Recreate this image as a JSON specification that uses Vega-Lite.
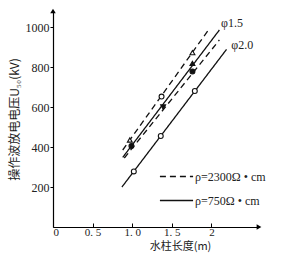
{
  "$schema": "https://vega.github.io/schema/vega-lite/v6.json",
  "width": 206,
  "height": 216,
  "autosize": "none",
  "padding": {"left": 53, "top": 11, "right": 33, "bottom": 31},
  "background": "white",
  "config": {
    "view": {"stroke": null},
    "font": "Liberation Serif"
  },
  "datasets": {
    "lines": [
      {"series": "A", "rho": "2300", "x": 0.88, "y": 385},
      {"series": "A", "rho": "2300", "x": 1.98, "y": 995},
      {"series": "B", "rho": "750", "x": 0.88, "y": 348},
      {"series": "B", "rho": "750", "x": 2.1, "y": 985},
      {"series": "C", "rho": "2300", "x": 0.9, "y": 345},
      {"series": "C", "rho": "2300", "x": 2.1, "y": 935},
      {"series": "D", "rho": "750", "x": 0.87, "y": 200},
      {"series": "D", "rho": "750", "x": 2.19, "y": 888}
    ],
    "points": [
      {"x": 0.97, "y": 435, "shape": "triangle-up", "fill": "open"},
      {"x": 1.37, "y": 652, "shape": "circle", "fill": "open"},
      {"x": 1.76, "y": 872, "shape": "triangle-up", "fill": "open"},
      {"x": 0.99, "y": 405, "shape": "circle", "fill": "filled"},
      {"x": 1.39, "y": 600, "shape": "triangle-down", "fill": "filled"},
      {"x": 1.76, "y": 818, "shape": "triangle-up", "fill": "filled"},
      {"x": 1.76, "y": 778, "shape": "circle", "fill": "filled"},
      {"x": 1.02, "y": 278, "shape": "circle", "fill": "open"},
      {"x": 1.36, "y": 455, "shape": "circle", "fill": "open"},
      {"x": 1.79, "y": 680, "shape": "circle", "fill": "open"}
    ],
    "labels": [
      {"x": 2.12, "y": 1022, "text": "φ1.5"},
      {"x": 2.25, "y": 908, "text": "φ2.0"}
    ],
    "arrows": [
      {"x": 0, "y": 1080, "shape": "triangle-up"},
      {"x": 2.6, "y": 0, "shape": "triangle-right"}
    ]
  },
  "layer": [
    {
      "data": {"name": "lines"},
      "mark": {"type": "line", "color": "#111", "strokeWidth": 1.3},
      "encoding": {
        "x": {
          "field": "x", "type": "quantitative",
          "scale": {"domain": [0, 2.6], "nice": false, "zero": false},
          "axis": {
            "values": [0, 0.5, 1, 1.5, 2],
            "grid": false,
            "domainColor": "#000",
            "domainWidth": 1.2,
            "tickColor": "#000",
            "tickSize": -4,
            "labelPadding": 3,
            "labelFont": "Liberation Serif",
            "labelFontSize": 11,
            "labelColor": "#222",
            "labelExpr": "datum.value == 0 ? '0' : datum.value == 0.5 ? '0. 5' : datum.value == 1 ? '1. 0' : datum.value == 1.5 ? '1. 5' : '2'",
            "title": "水柱长度(m)",
            "titleFont": "Noto Sans CJK SC",
            "titleFontWeight": "normal",
            "titleFontSize": 11,
            "titleColor": "#222",
            "titlePadding": 3,
            "titleX": 127
          }
        },
        "y": {
          "field": "y", "type": "quantitative",
          "scale": {"domain": [0, 1080], "nice": false, "zero": false},
          "axis": {
            "values": [200, 400, 600, 800, 1000],
            "format": "d",
            "grid": false,
            "domainColor": "#000",
            "domainWidth": 1.2,
            "tickColor": "#000",
            "tickSize": 3,
            "labelPadding": 1,
            "labelFont": "Liberation Serif",
            "labelFontSize": 12,
            "labelColor": "#222",
            "title": "操作波放电电压U₅₀(kV)",
            "titleFont": "Noto Sans CJK SC",
            "titleFontWeight": "normal",
            "titleFontSize": 12,
            "titleColor": "#222",
            "titlePadding": 4
          }
        },
        "detail": {"field": "series"},
        "strokeDash": {
          "field": "rho", "type": "nominal",
          "scale": {"domain": ["2300", "750"], "range": [[6, 4], [1, 0]]},
          "legend": {
            "orient": "none",
            "legendX": 106,
            "legendY": 148,
            "title": null,
            "symbolType": "stroke",
            "symbolSize": 1100,
            "symbolStrokeColor": "#111",
            "symbolStrokeWidth": 1.3,
            "labelFont": "Liberation Serif",
            "labelFontSize": 12,
            "labelColor": "#222",
            "labelOffset": 1,
            "rowPadding": -14,
            "labelExpr": "datum.value == '2300' ? 'ρ=2300Ω • cm' : 'ρ=750Ω • cm'"
          }
        }
      }
    },
    {
      "data": {"name": "points"},
      "mark": {"type": "point", "size": 24, "strokeWidth": 1.1, "color": "#111", "opacity": 1},
      "encoding": {
        "x": {"field": "x", "type": "quantitative"},
        "y": {"field": "y", "type": "quantitative"},
        "shape": {"field": "shape", "type": "nominal", "scale": null, "legend": null},
        "fill": {"field": "fill", "type": "nominal", "scale": {"domain": ["open", "filled"], "range": ["white", "#111"]}, "legend": null}
      }
    },
    {
      "data": {"name": "labels"},
      "mark": {"type": "text", "align": "left", "baseline": "middle", "font": "Liberation Serif", "fontSize": 12, "color": "#222"},
      "encoding": {
        "x": {"field": "x", "type": "quantitative"},
        "y": {"field": "y", "type": "quantitative"},
        "text": {"field": "text"}
      }
    },
    {
      "data": {"name": "arrows"},
      "mark": {"type": "point", "filled": true, "color": "#000", "size": 30, "opacity": 1},
      "encoding": {
        "x": {"field": "x", "type": "quantitative"},
        "y": {"field": "y", "type": "quantitative"},
        "shape": {"field": "shape", "type": "nominal", "scale": null, "legend": null}
      }
    }
  ]
}
